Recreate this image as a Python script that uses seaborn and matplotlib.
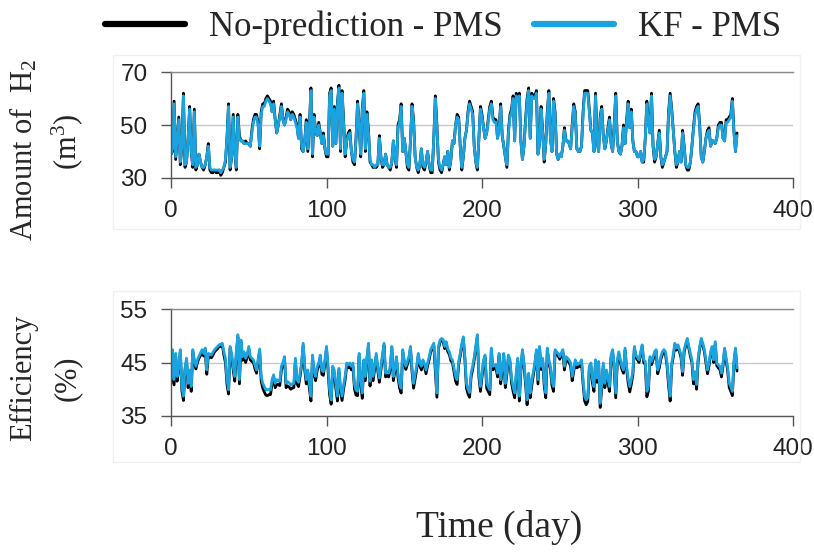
import numpy as np
import pandas as pd
import matplotlib
matplotlib.use("Agg")
import matplotlib.pyplot as plt
from matplotlib.patches import Rectangle
import seaborn as sns

# ---------------- data ----------------
days = list(range(365))

h2_no_prediction = [
    39, 40, 59, 37, 45, 53, 35, 42, 62, 34,
    36, 45, 57, 40, 34, 56, 33, 35, 39, 36,
    34, 33, 35, 38, 43, 33, 32, 32, 33, 32,
    32, 33, 31, 32, 34, 36, 45, 58, 33, 38,
    54, 40, 33, 54, 46, 44, 44, 43, 44, 43,
    43, 42, 48, 52, 54, 54, 51, 41, 55, 58,
    58, 60, 61, 60, 59, 55, 59, 52, 47, 50,
    54, 58, 52, 50, 53, 56, 55, 52, 55, 54,
    52, 50, 45, 54, 41, 40, 44, 52, 40, 50,
    64, 38, 54, 48, 46, 51, 47, 43, 47, 41,
    38, 38, 62, 64, 42, 57, 43, 58, 65, 40,
    63, 52, 38, 44, 47, 48, 40, 36, 35, 45,
    59, 50, 38, 56, 63, 40, 55, 48, 36, 35,
    34, 34, 34, 35, 46, 38, 34, 35, 39, 35,
    34, 33, 36, 44, 38, 34, 50, 52, 58, 40,
    45, 40, 34, 33, 44, 58, 52, 38, 34, 32,
    35, 41, 34, 33, 36, 40, 35, 32, 32, 45,
    61, 50, 36, 33, 32, 35, 38, 35, 40, 33,
    37, 44, 43, 50, 54, 53, 42, 33, 38, 45,
    48, 55, 59, 57, 55, 42, 36, 33, 45, 57,
    54, 49, 45, 47, 52, 57, 59, 53, 52, 52,
    45, 49, 58, 46, 42, 38, 34, 48, 54, 56,
    61, 44, 62, 60, 62, 44, 37, 42, 52, 60,
    64, 45, 62, 61, 61, 63, 39, 43, 57, 48,
    36, 43, 55, 63, 45, 40, 60, 55, 39, 37,
    39, 38, 42, 49, 44, 44, 43, 41, 50, 58,
    55, 41, 40, 40, 42, 55, 63, 63, 63, 56,
    48, 47, 40, 62, 44, 40, 53, 57, 46, 41,
    44, 49, 53, 43, 40, 50, 62, 44, 40, 39,
    42, 50, 43, 52, 59, 49, 56, 44, 40, 40,
    38, 38, 40, 36, 36, 45, 59, 52, 47, 62,
    42, 36, 38, 43, 48, 38, 34, 36, 38, 40,
    55, 62, 56, 48, 40, 34, 36, 40, 36, 48,
    42, 35, 33, 33, 36, 42, 49, 55, 57, 58,
    50, 38, 36, 40, 45, 48, 49, 42, 44, 44,
    43, 45, 50, 51, 51, 45, 44, 52, 52, 53,
    54, 60, 48, 40, 47,
]

h2_kf = [
    39, 41, 58, 38, 45, 52, 36, 42, 61, 35,
    36, 45, 56, 40, 35, 55, 34, 35, 39, 36,
    34, 34, 35, 38, 42, 34, 33, 33, 33, 33,
    33, 33, 32, 33, 34, 37, 45, 57, 34, 38,
    53, 40, 34, 53, 45, 44, 44, 43, 43, 43,
    43, 42, 47, 51, 53, 53, 50, 42, 54, 57,
    57, 59, 60, 59, 58, 55, 58, 52, 47, 50,
    53, 57, 52, 50, 52, 55, 54, 52, 54, 53,
    51, 49, 45, 53, 42, 40, 44, 51, 41, 49,
    63, 39, 53, 48, 46, 50, 47, 43, 46, 41,
    39, 39, 61, 63, 42, 56, 43, 57, 64, 41,
    62, 51, 39, 44, 46, 47, 40, 37, 36, 45,
    58, 50, 39, 55, 62, 41, 54, 47, 37, 35,
    35, 34, 35, 35, 45, 38, 35, 35, 39, 35,
    34, 34, 36, 44, 38, 35, 49, 51, 57, 40,
    45, 40, 35, 34, 44, 57, 51, 38, 34, 33,
    35, 41, 35, 34, 36, 40, 35, 33, 33, 45,
    60, 49, 37, 34, 33, 35, 38, 35, 40, 34,
    37, 44, 43, 50, 53, 52, 42, 34, 38, 45,
    48, 54, 58, 56, 54, 42, 36, 34, 45, 56,
    53, 49, 45, 47, 51, 56, 58, 52, 51, 51,
    45, 48, 57, 46, 42, 38, 35, 47, 53, 55,
    60, 44, 61, 59, 61, 44, 37, 42, 51, 59,
    63, 45, 61, 60, 60, 62, 39, 43, 56, 47,
    37, 43, 54, 62, 45, 40, 59, 54, 39, 37,
    39, 38, 42, 48, 44, 44, 43, 41, 49, 57,
    54, 41, 40, 40, 42, 54, 62, 62, 62, 55,
    48, 47, 40, 61, 44, 40, 52, 56, 46, 41,
    44, 48, 52, 43, 40, 49, 61, 44, 40, 39,
    42, 49, 43, 51, 58, 49, 55, 44, 40, 40,
    38, 38, 40, 36, 37, 45, 58, 51, 47, 61,
    42, 37, 38, 43, 47, 38, 35, 36, 38, 40,
    54, 61, 55, 48, 40, 35, 36, 40, 36, 47,
    42, 35, 34, 34, 36, 42, 48, 54, 56, 57,
    49, 38, 36, 40, 45, 47, 48, 42, 44, 44,
    43, 45, 49, 50, 50, 45, 44, 51, 51, 52,
    53, 59, 47, 40, 46,
]

eff_kf = [
    41.8, 47.4, 41.8, 46.7, 42.4, 44.5, 47.4, 40.5, 38.7, 44.0,
    45.8, 41.1, 43.6, 40.5, 47.4, 45.5, 44.3, 45.5, 46.2, 46.8,
    47.4, 46.7, 47.7, 43.6, 46.7, 46.5, 46.4, 46.9, 47.4, 47.7,
    48.0, 48.3, 48.4, 48.6, 47.0, 45.8, 41.8, 39.9, 48.0, 46.7,
    44.3, 42.4, 47.0, 50.2, 41.8, 49.2, 46.1, 47.0, 45.8, 46.5,
    48.0, 46.1, 45.8, 45.5, 44.5, 43.6, 45.5, 47.5, 42.4, 41.1,
    40.5, 39.9, 39.9, 40.0, 39.9, 41.8, 42.7, 41.1, 41.8, 41.6,
    41.5, 44.3, 45.0, 46.1, 41.1, 41.4, 41.2, 40.8, 41.0, 41.1,
    45.8, 41.8, 41.3, 43.0, 45.0, 48.6, 44.3, 41.8, 43.6, 41.0,
    38.7, 46.4, 43.5, 42.4, 44.2, 44.9, 46.4, 43.5, 43.3, 45.5,
    48.0, 44.3, 40.0, 38.0, 44.3, 43.6, 41.1, 38.7, 43.9, 40.5,
    38.7, 40.8, 42.5, 44.9, 44.6, 44.9, 44.3, 44.9, 40.9, 39.8,
    39.6, 46.7, 41.8, 39.3, 45.5, 42.4, 46.0, 48.6, 41.5, 45.5,
    42.4, 44.5, 46.7, 44.0, 42.1, 44.3, 46.5, 48.6, 43.0, 43.3,
    43.0, 44.3, 48.0, 42.4, 44.0, 46.1, 43.0, 41.1, 40.2, 47.4,
    45.5, 44.3, 45.2, 46.1, 48.0, 44.0, 41.1, 42.8, 44.3, 46.7,
    45.0, 44.3, 45.5, 44.8, 43.6, 44.9, 46.0, 47.4, 48.0, 48.6,
    44.3, 39.3, 48.0, 49.2, 49.5, 49.3, 48.0, 48.9, 47.5, 47.0,
    45.8, 45.5, 44.0, 42.4, 41.8, 45.2, 46.7, 48.5, 49.8, 46.1,
    41.1, 40.0, 39.4, 43.0, 44.3, 46.0, 48.0, 50.2, 43.0, 40.5,
    43.0, 45.5, 46.4, 41.1, 40.5, 39.9, 47.7, 44.3, 44.5, 44.6,
    43.0, 46.7, 41.8, 44.0, 46.7, 41.1, 43.5, 46.4, 45.5, 42.0,
    40.5, 39.3, 43.0, 45.8, 38.7, 44.0, 47.4, 44.9, 41.8, 38.0,
    43.0, 39.3, 41.5, 43.3, 45.0, 47.4, 41.8, 48.0, 44.3, 45.8,
    41.5, 39.3, 47.7, 45.5, 44.3, 41.5, 40.5, 47.4, 47.0, 46.7,
    46.1, 46.8, 47.4, 44.3, 46.1, 45.8, 45.5, 44.9, 42.4, 44.0,
    45.5, 44.6, 44.8, 44.9, 45.5, 41.8, 38.7, 38.0, 38.5, 44.3,
    44.9, 42.0, 40.5, 45.5, 42.1, 45.2, 37.4, 41.0, 44.9, 41.1,
    43.6, 42.0, 40.5, 46.4, 47.4, 44.3, 39.3, 45.5, 47.0, 45.5,
    44.3, 43.6, 47.7, 44.3, 42.0, 40.5, 41.8, 43.3, 48.0, 46.4,
    46.0, 45.5, 47.0, 48.3, 45.5, 45.2, 39.6, 40.5, 46.1, 45.2,
    46.0, 47.0, 47.4, 43.6, 44.6, 46.1, 47.0, 47.4, 47.0, 44.9,
    41.5, 38.7, 44.9, 46.5, 48.6, 47.7, 48.3, 47.4, 46.4, 43.3,
    47.4, 48.5, 49.5, 48.0, 46.7, 45.5, 41.8, 43.3, 40.9, 45.8,
    48.0, 49.5, 48.6, 47.4, 45.5, 43.6, 44.9, 47.0, 48.0, 45.5,
    48.9, 44.9, 44.5, 44.3, 43.0, 44.9, 47.7, 45.8, 44.0, 41.1,
    40.5, 39.6, 45.2, 47.7, 44.0,
]

eff_no_prediction = [
    41.0, 47.0, 40.8, 46.2, 41.5, 44.0, 47.0, 39.7, 37.9, 43.5,
    45.3, 40.3, 43.0, 39.6, 47.0, 45.0, 43.8, 45.0, 45.8, 46.3,
    47.0, 46.2, 47.3, 42.8, 46.2, 46.0, 45.9, 46.4, 47.0, 47.3,
    47.6, 48.0, 48.0, 48.3, 46.4, 45.0, 40.9, 39.1, 47.6, 46.0,
    43.6, 41.5, 46.5, 49.8, 41.0, 48.8, 45.4, 46.5, 45.0, 46.0,
    47.6, 45.5, 45.2, 45.0, 43.8, 43.0, 45.0, 47.1, 41.5, 40.2,
    39.5, 38.9, 38.8, 39.0, 39.0, 41.0, 42.0, 40.3, 41.0, 40.8,
    40.7, 43.6, 44.5, 45.6, 40.3, 40.6, 40.4, 40.0, 40.2, 40.3,
    45.2, 41.0, 40.5, 42.4, 44.5, 48.2, 43.6, 41.0, 43.0, 40.1,
    37.8, 45.9, 42.8, 41.6, 43.5, 44.4, 46.0, 42.8, 42.6, 45.0,
    47.6, 43.5, 39.0, 37.2, 43.6, 42.9, 40.2, 37.8, 43.2, 39.6,
    37.9, 40.0, 41.8, 44.3, 44.0, 44.3, 43.6, 44.3, 40.0, 38.9,
    38.8, 46.2, 41.0, 38.3, 45.0, 41.6, 45.5, 48.2, 40.6, 45.0,
    41.6, 43.9, 46.2, 43.4, 41.3, 43.7, 46.0, 48.2, 42.3, 42.6,
    42.3, 43.7, 47.6, 41.6, 43.4, 45.6, 42.2, 40.2, 39.3, 47.0,
    45.0, 43.7, 44.6, 45.6, 47.6, 43.3, 40.2, 42.0, 43.7, 46.2,
    44.4, 43.6, 45.0, 44.2, 42.9, 44.4, 45.5, 47.0, 47.6, 48.2,
    43.5, 38.5, 47.6, 48.8, 49.1, 48.9, 47.6, 48.4, 47.0, 46.5,
    45.3, 45.0, 43.3, 41.5, 40.9, 44.6, 46.2, 48.1, 49.4, 45.5,
    40.2, 39.1, 38.5, 42.3, 43.7, 45.5, 47.6, 49.8, 42.3, 39.6,
    42.3, 45.0, 45.9, 40.2, 39.6, 39.0, 47.3, 43.6, 43.9, 44.0,
    42.3, 46.2, 41.0, 43.4, 46.2, 40.3, 42.8, 45.9, 45.0, 41.2,
    39.6, 38.4, 42.3, 45.3, 37.8, 43.4, 47.0, 44.4, 41.0, 37.1,
    42.3, 38.4, 40.7, 42.6, 44.5, 47.0, 41.0, 47.6, 43.7, 45.3,
    40.7, 38.4, 47.3, 45.0, 43.7, 40.7, 39.6, 47.0, 46.5, 46.2,
    45.6, 46.3, 47.0, 43.6, 45.6, 45.3, 45.0, 44.3, 41.6, 43.4,
    45.0, 44.0, 44.2, 44.3, 45.0, 41.0, 37.8, 37.1, 37.7, 43.6,
    44.4, 41.2, 39.6, 45.0, 41.3, 44.6, 36.6, 40.2, 44.4, 40.3,
    43.0, 41.2, 39.6, 45.9, 47.0, 43.6, 38.4, 45.0, 46.5, 45.0,
    43.7, 43.0, 47.3, 43.7, 41.2, 39.5, 40.9, 42.6, 47.6, 45.9,
    45.5, 45.0, 46.5, 48.0, 45.0, 44.6, 38.6, 39.6, 45.6, 44.6,
    45.5, 46.5, 47.0, 42.9, 44.0, 45.6, 46.5, 47.0, 46.5, 44.4,
    40.6, 37.8, 44.4, 46.0, 48.2, 47.3, 48.0, 47.0, 45.9, 42.6,
    47.0, 48.1, 49.1, 47.6, 46.2, 45.0, 41.0, 42.6, 40.0, 45.3,
    47.6, 49.1, 48.2, 47.0, 45.0, 42.9, 44.4, 46.5, 47.6, 45.0,
    48.5, 44.4, 44.0, 43.7, 42.3, 44.4, 47.3, 45.3, 43.4, 40.3,
    39.6, 38.8, 44.6, 47.3, 43.4,
]

series_names = ["No-prediction - PMS", "KF - PMS"]
x_ticks = [0, 100, 200, 300, 400]
h2_yticks = [30, 50, 70]
eff_yticks = [35, 45, 55]

# ---------------- style ----------------
sns.set_style("ticks")
plt.rcParams["font.family"] = ["Liberation Sans", "DejaVu Sans"]
plt.rcParams["mathtext.fontset"] = "custom"
plt.rcParams["mathtext.rm"] = "Liberation Serif"
plt.rcParams["mathtext.it"] = "Liberation Serif:italic"

SERIF = ["Liberation Serif", "DejaVu Serif"]
palette = {series_names[0]: "#000000", series_names[1]: "#1AA3DE"}

W, H = 814, 554
fig = plt.figure(figsize=(W / 100, H / 100), dpi=100)

# faint chart-area borders (as in the source figure)
for (l, t, r, b) in [(113, 55, 800, 229), (113, 291, 800, 462)]:
    fig.patches.append(Rectangle((l / W, 1 - b / H), (r - l) / W, (b - t) / H,
                                 transform=fig.transFigure, fill=False,
                                 edgecolor="#f0f0f0", linewidth=1.0, zorder=0))

def px_axes(left, right, top, bottom):
    return fig.add_axes([left / W, 1 - bottom / H, (right - left) / W, (bottom - top) / H])

ax1 = px_axes(171, 793, 72, 178)
ax2 = px_axes(171, 793, 309, 416)

df_h2 = pd.concat([
    pd.DataFrame({"day": days, "value": h2_no_prediction, "series": series_names[0]}),
    pd.DataFrame({"day": days, "value": h2_kf, "series": series_names[1]}),
])
df_eff = pd.concat([
    pd.DataFrame({"day": days, "value": eff_no_prediction, "series": series_names[0]}),
    pd.DataFrame({"day": days, "value": eff_kf, "series": series_names[1]}),
])

for ax, df, yt in [(ax1, df_h2, h2_yticks), (ax2, df_eff, eff_yticks)]:
    sns.lineplot(data=df, x="day", y="value", hue="series", palette=palette,
                 hue_order=series_names, linewidth=2.0, ax=ax, legend=(ax is ax1))
    ax.set_xlim(x_ticks[0], x_ticks[-1])
    ax.set_ylim(yt[0], yt[-1])
    ax.set_xticks(x_ticks)
    ax.set_yticks(yt)
    ax.set_xlabel("")
    ax.set_ylabel("")
    ax.grid(axis="y", color="#c8c8c8", linewidth=1.0)
    ax.grid(axis="x", visible=False)
    ax.set_axisbelow(True)
    ax.spines["right"].set_visible(False)
    ax.spines["top"].set_visible(True)
    ax.spines["top"].set_color("#8a8a8a")
    ax.spines["bottom"].set_color("#555555")
    ax.spines["left"].set_color("#555555")
    for s in ax.spines.values():
        s.set_linewidth(1.0)
    ax.tick_params(axis="both", which="major", direction="out", length=7,
                   width=1, color="#555555", labelsize=17.5, labelcolor="#222222",
                   bottom=True, left=True, top=False, right=False)
    ax.tick_params(axis="y", pad=10)
    ax.tick_params(axis="x", pad=9)
    ax.set_facecolor("white")

# legend at top of figure
handles, labels = ax1.get_legend_handles_labels()
ax1.get_legend().remove()
leg = fig.legend(handles, labels, loc="center", bbox_to_anchor=(443 / W, 1 - 27 / H),
                 ncol=2, frameon=False, prop={"family": SERIF, "size": 25},
                 handlelength=2.3, handletextpad=0.7, columnspacing=0.9)
for ln in leg.get_lines():
    ln.set_linewidth(4.5)

# y labels (two lines each, serif)
fig.text(24 / W, 1 - 150 / H, r"Amount of  H$_2$", rotation=90, ha="center", va="center",
         family=SERIF, fontsize=22)
fig.text(67 / W, 1 - 142 / H, r"(m$^3$)", rotation=90, ha="center", va="center",
         family=SERIF, fontsize=22)
fig.text(24 / W, 1 - 378 / H, "Efficiency", rotation=90, ha="center", va="center",
         family=SERIF, fontsize=22)
fig.text(67 / W, 1 - 378 / H, "(%)", rotation=90, ha="center", va="center",
         family=SERIF, fontsize=22)

# x label
fig.text(499 / W, 1 - 527 / H, "Time (day)", ha="center", va="center",
         family=SERIF, fontsize=27)

fig.savefig("out.png", dpi=100, facecolor="white")
